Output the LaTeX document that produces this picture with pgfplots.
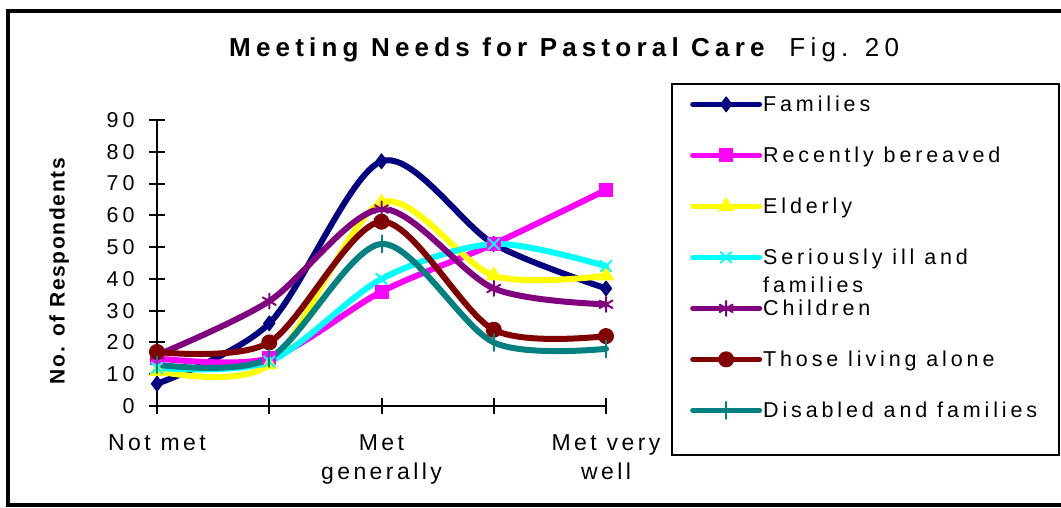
\documentclass[border=0pt]{standalone}
\usepackage{pgfplots}
\pgfplotsset{compat=1.18}
\usepackage{fontspec}
\setmainfont{Liberation Sans}
\newfontfamily\lsfont[LetterSpace=18]{Liberation Sans}
\newfontfamily\xlsfont[LetterSpace=15]{Liberation Sans}
\newfontfamily\titlefont[LetterSpace=20]{Liberation Sans}
\newfontfamily\ylabfont[LetterSpace=8]{Liberation Sans}
\newcommand\tickfont{\fontsize{21.5pt}{28pt}\lsfont}
\newcommand\xtickfont{\fontsize{23pt}{29pt}\xlsfont}
\definecolor{cNavy}{RGB}{0,0,128}
\definecolor{cMag}{RGB}{255,0,255}
\definecolor{cYel}{RGB}{255,255,0}
\definecolor{cCyan}{RGB}{0,255,255}
\definecolor{cPurp}{RGB}{128,0,128}
\definecolor{cMaroon}{RGB}{128,0,0}
\definecolor{cTeal}{RGB}{0,128,128}
\begin{document}
\begin{tikzpicture}[x=1pt,y=1pt]
\draw[line width=4pt] (1100,-11) -- (8,-11) -- (8,-505) -- (1100,-505);
\node[anchor=base west, inner sep=0pt] at (229,-56) {\fontsize{26pt}{30pt}\titlefont\bfseries Meeting Needs for Pastoral Care\mdseries\ \ Fig. 20};
\draw[line width=1.5pt] (672,-84) rectangle (1059,-455);
\begin{axis}[
  at={(157pt,-406pt)}, anchor=south west,
  scale only axis, width=449pt, height=286pt,
  xmin=0, xmax=4, ymin=0, ymax=90,
  axis x line*=bottom, axis y line*=left,
  axis line style={line width=2.5pt},
  xtick={0,1,2,3,4},
  xticklabels={Not met,,{Met\\generally},,{Met very\\well}},
  ytick={0,10,...,90},
  tick align=center, major tick length=16pt,
  tick style={line width=2pt, black},
  /pgf/number format/assume math mode=true,
  yticklabel style={font=\tickfont, xshift=-11pt},
  xticklabel style={font=\xtickfont, align=center, yshift=-17pt},
  ylabel={No. of Respondents},
  ylabel style={font=\fontsize{21pt}{24pt}\ylabfont\bfseries, at={(axis description cs:-0.218,0.472)}, anchor=center},
  every axis plot/.append style={line width=6pt, smooth, line cap=round, line join=round},
  legend cell align=left,
  legend style={draw=none, fill=none, at={(axis description cs:1.187,1.087)}, anchor=north west,
    inner sep=0pt, row sep=27pt, column sep=1pt,
    nodes={inner sep=0pt, text height=16pt, text depth=8pt, font=\tickfont}},
  legend image code/.code={\draw[mark repeat=2,mark phase=2,yshift=3pt,line width=5pt,#1] plot coordinates {(0pt,0pt) (33.5pt,0pt) (67pt,0pt)};},
  clip=false,
]
\addplot[cNavy, mark=diamond*, mark size=7.5pt, mark options={solid,line width=1pt}]
  coordinates {(0,7) (1,26) (2,77) (3,51) (4,37)};
\addlegendentry{Families}
\addplot[cMag, mark=square*, mark size=6.5pt, mark options={solid,line width=1pt}]
  coordinates {(0,15) (1,15) (2,36) (3,51) (4,68)};
\addlegendentry{Recently bereaved}
\addplot[cYel, mark=triangle*, mark size=8.5pt, mark options={solid,line width=1pt}]
  coordinates {(0,11) (1,13) (2,64) (3,41) (4,41)};
\addlegendentry{Elderly}
\addplot[cCyan, mark=x, mark size=7.5pt, mark options={solid,line width=2pt}]
  coordinates {(0,12) (1,14) (2,40) (3,51) (4,44)};
\addlegendentry{\raisebox{0pt}[\height][0pt]{\begin{tabular}[t]{@{}l@{}}Seriously ill and\\families\end{tabular}}}
\addplot[cPurp, mark=asterisk, mark size=7.5pt, mark options={solid,line width=2pt}]
  coordinates {(0,16) (1,33) (2,62) (3,37) (4,32)};
\addlegendentry{Children}
\addplot[cMaroon, mark=*, mark size=7.5pt, mark options={solid,line width=1pt}]
  coordinates {(0,17) (1,20) (2,58) (3,24) (4,22)};
\addlegendentry{Those living alone}
\addplot[cTeal, mark=|, mark size=8.5pt, mark options={solid,line width=2pt}]
  coordinates {(0,13) (1,15) (2,51) (3,20) (4,18)};
\addlegendentry{Disabled and families}
\end{axis}
\pgfresetboundingbox
\useasboundingbox (0,0) rectangle (1061,-507);
\end{tikzpicture}
\end{document}
